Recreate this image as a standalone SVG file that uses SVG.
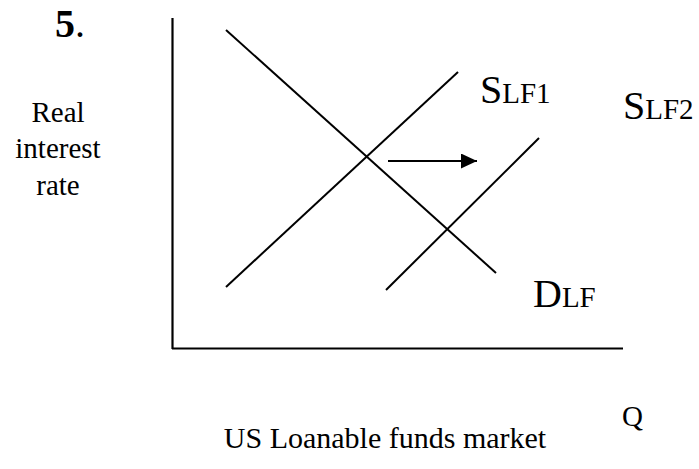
<svg xmlns="http://www.w3.org/2000/svg" width="699" height="469" viewBox="0 0 699 469">
<style>
.t{font-family:"Liberation Serif","Times New Roman",serif;fill:#000}
.big{font-size:40px}
.sm{font-size:29px}
.ln{stroke:#000;stroke-width:2;fill:none}
.ax{stroke:#000;stroke-width:2.2;fill:none}
</style>
<defs>
<marker id="ah" markerWidth="16" markerHeight="15" refX="16" refY="7.5" orient="auto" markerUnits="userSpaceOnUse">
<path d="M0,0 L16,7.5 L0,15 Z" fill="#000"/>
</marker>
</defs>
<rect width="699" height="469" fill="#fff"/>
<g id="title"><text class="t" x="55" y="37" font-size="40"><tspan font-weight="bold">5</tspan>.</text></g>
<g id="ylabel"><text class="t" x="58" y="122" font-size="29" text-anchor="middle">Real</text>
<text class="t" x="58" y="158" font-size="29" text-anchor="middle">interest</text>
<text class="t" x="58" y="195" font-size="29" text-anchor="middle">rate</text></g>
<g id="axes">
<line class="ax" x1="172.5" y1="18" x2="172.5" y2="349"/>
<line class="ax" x1="172" y1="348.5" x2="623" y2="348.5"/>
</g>
<g id="connectors">
<line id="D" class="ln" x1="226" y1="30" x2="496" y2="273"/>
<line id="S1" class="ln" x1="226" y1="287" x2="458" y2="72"/>
<line id="S2" class="ln" x1="386" y1="290" x2="539" y2="138"/>
<line id="shift" class="ln" stroke-width="2.3" x1="388" y1="161" x2="477" y2="161" marker-end="url(#ah)"/>
</g>
<g id="SLF1"><text class="t" x="480" y="103"><tspan class="big">S</tspan><tspan class="sm">LF1</tspan></text></g>
<g id="SLF2"><text class="t" x="623" y="119"><tspan class="big">S</tspan><tspan class="sm">LF2</tspan></text></g>
<g id="DLF"><text class="t" x="533" y="307"><tspan class="big">D</tspan><tspan class="sm">LF</tspan></text></g>
<g id="Q"><text class="t" x="622" y="426" font-size="29">Q</text></g>
<g id="caption"><text class="t" x="385" y="448" font-size="30" text-anchor="middle">US Loanable funds market</text></g>
</svg>
